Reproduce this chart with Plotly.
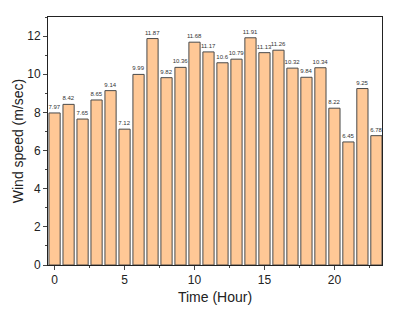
import plotly.graph_objects as go

hours = list(range(24))
speeds = [7.97, 8.42, 7.65, 8.65, 9.14, 7.12, 9.99, 11.87, 9.82, 10.36, 11.68, 11.17,
          10.6, 10.79, 11.91, 11.13, 11.26, 10.32, 9.84, 10.34, 8.22, 6.45, 9.25, 6.78]
labels = [f"{v:g}" for v in speeds]

fig = go.Figure(go.Bar(
    x=hours, y=speeds, width=0.8,
    marker=dict(color="#FFC896", line=dict(color="#4a4a4a", width=1)),
    text=labels, textposition="outside", cliponaxis=False,
    textfont=dict(family="Liberation Sans", size=6, color="#333"),
))

fig.update_layout(
    width=393, height=316,
    margin=dict(l=48, r=11, t=17, b=51),
    paper_bgcolor="white", plot_bgcolor="white",
    font=dict(family="Liberation Sans", color="#222"),
    showlegend=False,
    uniformtext=dict(minsize=6, mode="show"),
)
fig.update_xaxes(
    range=[-0.47, 23.4], tickvals=[0, 5, 10, 15, 20], ticks="outside", ticklen=4,
    minor=dict(tickvals=[2.5, 7.5, 12.5, 17.5, 22.5], ticks="outside", ticklen=2),
    showline=True, linecolor="#222", linewidth=1, mirror=True, showgrid=False,
    zeroline=False, tickfont=dict(size=12), automargin=False,
    title=dict(text="Time (Hour)", font=dict(size=14), standoff=5),
)
fig.update_yaxes(
    range=[0, 13], tickvals=[0, 2, 4, 6, 8, 10, 12], ticks="outside", ticklen=4,
    minor=dict(dtick=1, ticks="outside", ticklen=2),
    showline=True, linecolor="#222", linewidth=1, mirror=True, showgrid=False,
    zeroline=False, tickfont=dict(size=12), automargin=False,
    title=dict(text="Wind speed (m/sec)", font=dict(size=14), standoff=0),
)

fig.write_html("out.html", config={"displayModeBar": False},
               post_script="document.body.style.margin='0';")
